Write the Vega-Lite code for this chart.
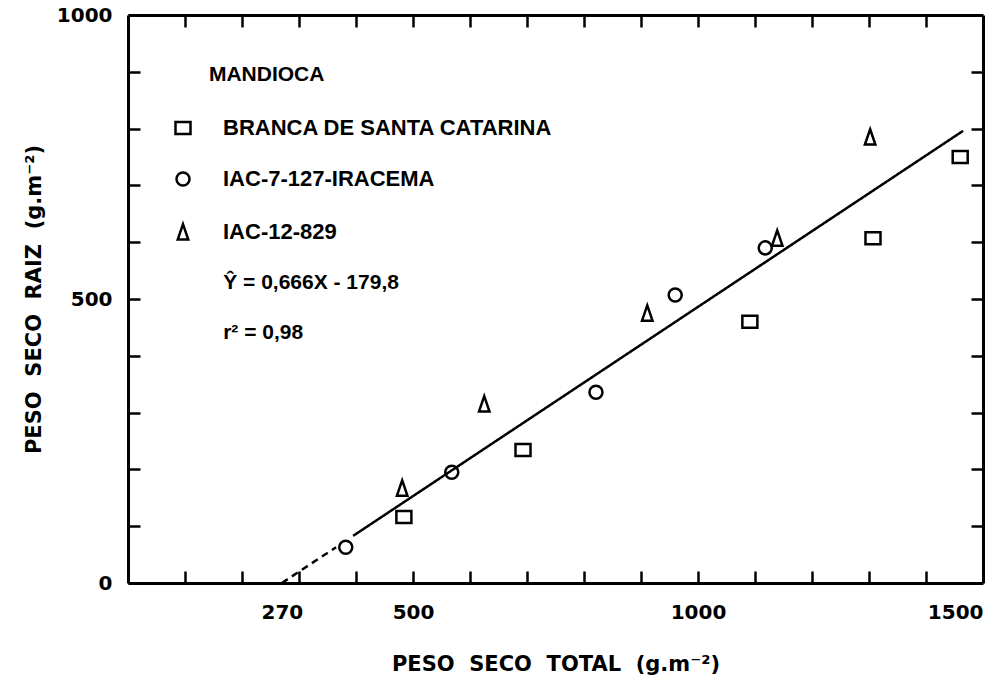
{
  "$schema": "https://vega.github.io/schema/vega-lite/v6.json",
  "width": 855,
  "height": 568,
  "autosize": {"type": "none"},
  "padding": {"left": 128, "top": 15, "right": 6, "bottom": 98},
  "background": "white",
  "config": {"view": {"stroke": null}, "font": "Liberation Sans"},
  "datasets": {
    "points": [
      {"variedade": "BRANCA DE SANTA CATARINA", "total": 484, "raiz": 116},
      {"variedade": "BRANCA DE SANTA CATARINA", "total": 693, "raiz": 234},
      {"variedade": "BRANCA DE SANTA CATARINA", "total": 1091, "raiz": 460},
      {"variedade": "BRANCA DE SANTA CATARINA", "total": 1307, "raiz": 607},
      {"variedade": "BRANCA DE SANTA CATARINA", "total": 1460, "raiz": 750},
      {"variedade": "IAC-7-127-IRACEMA", "total": 382, "raiz": 63},
      {"variedade": "IAC-7-127-IRACEMA", "total": 568, "raiz": 195},
      {"variedade": "IAC-7-127-IRACEMA", "total": 821, "raiz": 336},
      {"variedade": "IAC-7-127-IRACEMA", "total": 960, "raiz": 507},
      {"variedade": "IAC-7-127-IRACEMA", "total": 1118, "raiz": 590},
      {"variedade": "IAC-12-829", "total": 481, "raiz": 167},
      {"variedade": "IAC-12-829", "total": 625, "raiz": 315},
      {"variedade": "IAC-12-829", "total": 911, "raiz": 475},
      {"variedade": "IAC-12-829", "total": 1139, "raiz": 607},
      {"variedade": "IAC-12-829", "total": 1302, "raiz": 785}
    ],
    "fit": [
      {"segment": "dashed", "total": 270, "raiz": 0},
      {"segment": "dashed", "total": 365, "raiz": 63},
      {"segment": "solid", "total": 395, "raiz": 83},
      {"segment": "solid", "total": 1465, "raiz": 796}
    ]
  },
  "layer": [
    {
      "data": {"name": "fit"},
      "mark": {"type": "line", "color": "black", "strokeWidth": 2.5},
      "encoding": {
        "x": {
          "field": "total", "type": "quantitative",
          "scale": {"domain": [0, 1500], "nice": false, "zero": false},
          "axis": {
            "orient": "bottom",
            "values": [100, 200, 270, 300, 400, 500, 600, 700, 800, 900, 1000, 1100, 1200, 1300, 1400, 1500],
            "format": "d",
            "labelExpr": "datum.value == 270 || datum.value == 500 || datum.value == 1000 || datum.value == 1500 ? datum.label : ''",
            "grid": false,
            "tickSize": {"condition": {"test": "datum.value == 270 || datum.value == 1500", "value": 0}, "value": -12},
            "tickWidth": 2.5, "tickColor": "black",
            "domainWidth": 3, "domainColor": "black",
            "labelFont": "DejaVu Sans", "labelFontWeight": "bold", "labelFontSize": 20, "labelColor": "black",
            "labelPadding": {"condition": {"test": "datum.value == 270 || datum.value == 1500", "value": 19}, "value": 31},
            "labelFlush": false, "labelOverlap": false,
            "labelAlign": {"condition": {"test": "datum.value == 1500", "value": "right"}, "value": "center"},
            "title": "PESO \u00a0SECO \u00a0TOTAL \u00a0(g.m⁻²)",
            "titleFont": "DejaVu Sans", "titleFontWeight": "bold", "titleFontSize": 21, "titleColor": "black",
            "titlePadding": 31
          }
        },
        "y": {
          "field": "raiz", "type": "quantitative",
          "scale": {"domain": [0, 1000], "nice": false},
          "axis": {
            "orient": "left",
            "values": [0, 100, 200, 300, 400, 500, 600, 700, 800, 900, 1000],
            "labelExpr": "datum.value == 0 || datum.value == 500 || datum.value == 1000 ? datum.label : ''",
            "format": "d",
            "grid": false,
            "tickSize": -12, "tickWidth": 2.5, "tickColor": "black",
            "domainWidth": 3, "domainColor": "black",
            "labelFont": "DejaVu Sans", "labelFontWeight": "bold", "labelFontSize": 20, "labelColor": "black",
            "labelPadding": 28, "labelFlush": false, "labelOverlap": false,
            "title": "PESO \u00a0SECO \u00a0RAIZ \u00a0(g.m⁻²)",
            "titleFont": "DejaVu Sans", "titleFontWeight": "bold", "titleFontSize": 21, "titleColor": "black",
            "titlePadding": 12
          }
        },
        "detail": {"field": "segment"},
        "strokeDash": {
          "field": "segment", "type": "nominal",
          "scale": {"domain": ["solid", "dashed"], "range": [[1, 0], [7, 5]]},
          "legend": null
        }
      }
    },
    {
      "data": {"name": "points"},
      "mark": {"type": "point", "filled": false, "color": "black", "strokeWidth": 2.5, "size": 225, "opacity": 1},
      "encoding": {
        "x": {
          "field": "total", "type": "quantitative",
          "axis": {
            "orient": "top",
            "values": [100, 200, 300, 400, 500, 600, 700, 800, 900, 1000, 1100, 1200, 1300, 1400],
            "labels": false, "grid": false, "title": null,
            "tickSize": -12, "tickWidth": 2.5, "tickColor": "black",
            "domainWidth": 3, "domainColor": "black"
          }
        },
        "y": {
          "field": "raiz", "type": "quantitative",
          "axis": {
            "orient": "right",
            "values": [100, 200, 300, 400, 500, 600, 700, 800, 900],
            "labels": false, "grid": false, "title": null,
            "tickSize": -12, "tickWidth": 2.5, "tickColor": "black",
            "domainWidth": 3, "domainColor": "black"
          }
        },
        "shape": {
          "field": "variedade", "type": "nominal",
          "scale": {
            "domain": ["BRANCA DE SANTA CATARINA", "IAC-7-127-IRACEMA", "IAC-12-829"],
            "range": [
              "M-1,-0.8H1V0.8H-1Z",
              "M0.87,0A0.87,0.87 0 1,1 -0.87,0A0.87,0.87 0 1,1 0.87,0Z",
              "M0,-1.05L0.7,1L-0.7,1Z"
            ]
          },
          "legend": {
            "orient": "none", "legendX": 44, "legendY": 102,
            "title": null, "padding": 0,
            "labelFont": "Liberation Sans", "labelFontWeight": "bold", "labelFontSize": 22, "labelColor": "black",
            "labelOffset": 29, "rowPadding": 28,
            "symbolSize": 225, "symbolStrokeWidth": 2.5, "symbolStrokeColor": "black", "symbolFillColor": "transparent", "symbolOpacity": 1,
            "labelLimit": 600
          }
        }
      }
    },
    {
      "data": {"values": [{}]},
      "mark": {"type": "text", "align": "left", "baseline": "middle", "font": "Liberation Sans", "fontWeight": "bold", "fontSize": 21, "color": "black"},
      "encoding": {
        "x": {"datum": 142, "type": "quantitative", "axis": null},
        "y": {"datum": 894, "type": "quantitative", "axis": null},
        "text": {"value": "MANDIOCA"}
      }
    },
    {
      "data": {"values": [{}]},
      "mark": {"type": "text", "align": "left", "baseline": "middle", "font": "Liberation Sans", "fontWeight": "bold", "fontSize": 21, "color": "black"},
      "encoding": {
        "x": {"datum": 167, "type": "quantitative", "axis": null},
        "y": {"datum": 528, "type": "quantitative", "axis": null},
        "text": {"value": "Ŷ = 0,666X - 179,8"}
      }
    },
    {
      "data": {"values": [{}]},
      "mark": {"type": "text", "align": "left", "baseline": "middle", "font": "Liberation Sans", "fontWeight": "bold", "fontSize": 21, "color": "black"},
      "encoding": {
        "x": {"datum": 167, "type": "quantitative", "axis": null},
        "y": {"datum": 440, "type": "quantitative", "axis": null},
        "text": {"value": "r² = 0,98"}
      }
    }
  ],
  "resolve": {"axis": {"x": "independent", "y": "independent"}}
}
